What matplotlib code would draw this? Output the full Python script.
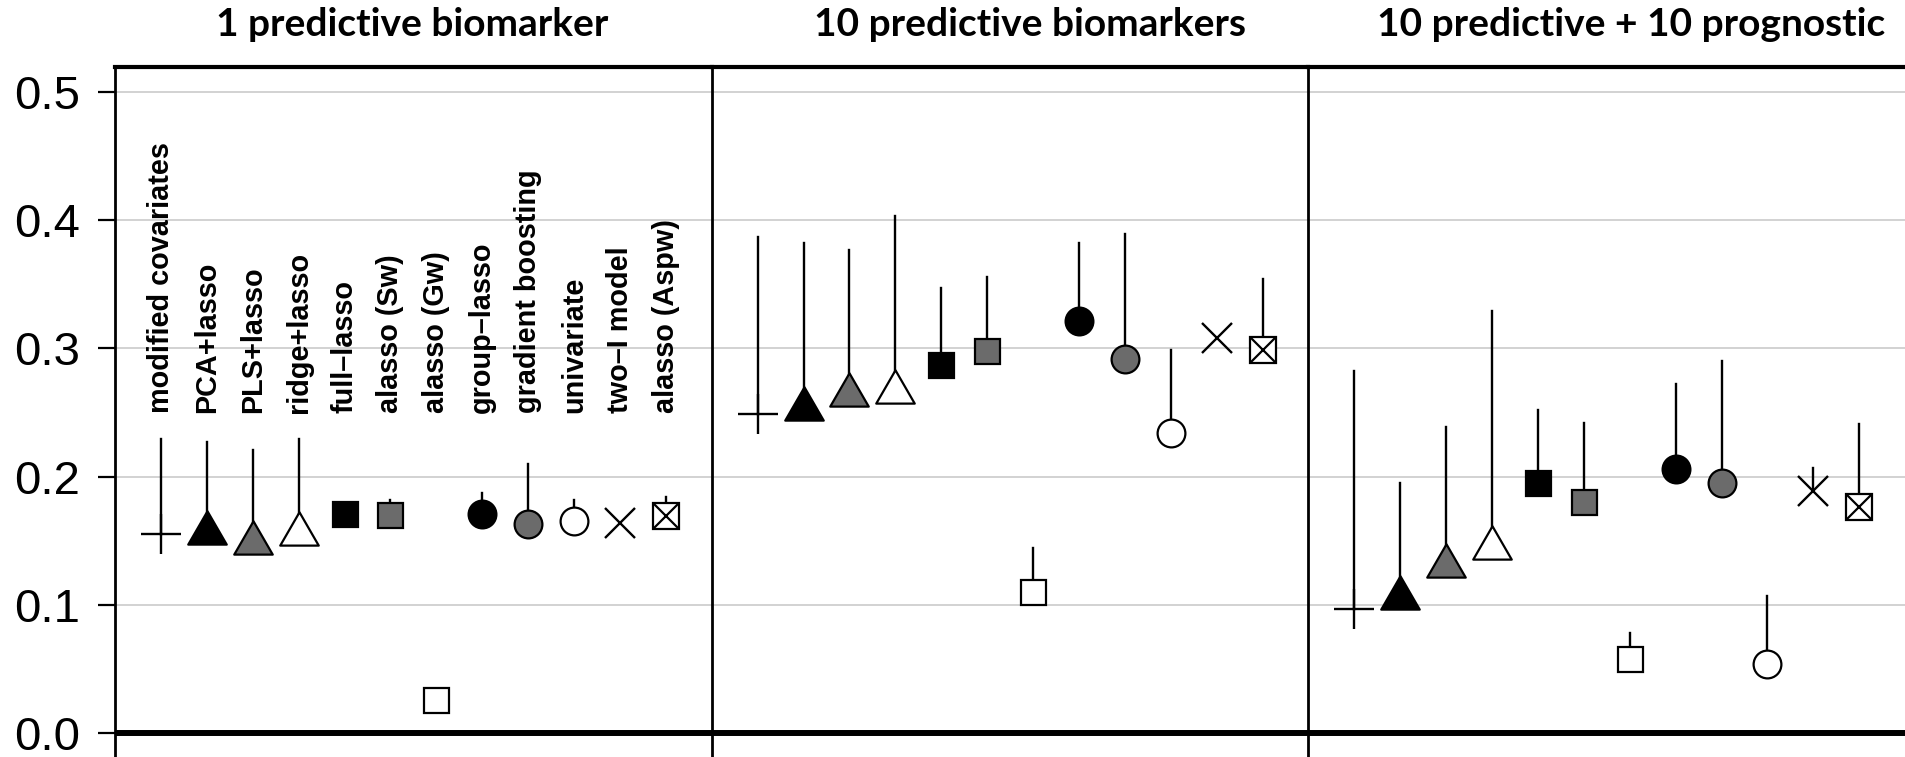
import matplotlib
matplotlib.use("Agg")
import matplotlib.pyplot as plt
from matplotlib.path import Path

# panel titles and method names
panels = ["1 predictive biomarker", "10 predictive biomarkers", "10 predictive + 10 prognostic"]
methods = ["modified covariates", "PCA+lasso", "PLS+lasso", "ridge+lasso", "full–lasso",
           "alasso (Sw)", "alasso (Gw)", "group–lasso", "gradient boosting", "univariate",
           "two–I model", "alasso (Aspw)"]
yticks = [0.0, 0.1, 0.2, 0.3, 0.4, 0.5]

# point estimate and upper end of the bar
est_1 = [0.155, 0.156, 0.148, 0.155, 0.171, 0.170, 0.026, 0.171, 0.163, 0.165, 0.164, 0.169]
up_1 = [0.229, 0.227, 0.221, 0.229, 0.171, 0.182, 0.026, 0.187, 0.210, 0.182, 0.164, 0.184]

est_2 = [0.249, 0.253, 0.264, 0.266, 0.287, 0.298, 0.110, 0.321, 0.292, 0.234, 0.308, 0.299]
up_2 = [0.387, 0.382, 0.377, 0.403, 0.347, 0.356, 0.144, 0.382, 0.389, 0.299, 0.308, 0.354]

est_3 = [0.097, 0.105, 0.130, 0.144, 0.195, 0.180, 0.058, 0.206, 0.195, 0.054, 0.189, 0.176]
up_3 = [0.282, 0.195, 0.239, 0.329, 0.252, 0.242, 0.078, 0.272, 0.290, 0.107, 0.207, 0.241]

estimates = [est_1, est_2, est_3]
uppers = [up_1, up_2, up_3]

GRAY = "#6b6b6b"
tri = Path([(0, 1), (-0.866, -0.5), (0.866, -0.5), (0, 1)],
           [Path.MOVETO, Path.LINETO, Path.LINETO, Path.CLOSEPOLY])

# marker style per method: (marker, size, facecolor)
styles = [
    ("+", 29, "black"),
    (tri, 32, "black"),
    (tri, 32, GRAY),
    (tri, 32, "white"),
    ("s", 18, "black"),
    ("s", 18, GRAY),
    ("s", 18, "white"),
    ("o", 20, "black"),
    ("o", 20, GRAY),
    ("o", 20, "white"),
    ("x", 22, "black"),
    ("boxx", 19, "white"),
]

fig = plt.figure(figsize=(19.05, 7.57), dpi=100)

left = 115 / 1905
w = 596.7 / 1905
h = (757 - 67) / 757

for p in range(3):
    ax = fig.add_axes([left + p * w, 0, w, h])
    ax.set_xlim(0, 13)
    ax.set_ylim(-0.0187, 0.5195)
    ax.set_yticks(yticks)
    ax.set_xticks([])
    ax.grid(axis="y", color="#cfcfcf", lw=1.3)
    ax.set_axisbelow(True)
    ax.axhline(0, color="black", lw=4.3, zorder=2)

    for s in ["bottom", "right"]:
        ax.spines[s].set_visible(False)
    ax.spines["left"].set_linewidth(2.0)
    ax.spines["top"].set_linewidth(3.0)

    if p == 0:
        ax.tick_params(axis="y", length=12, width=1.6, pad=13, labelsize=34)
        ax.set_yticklabels(["0.0", "0.1", "0.2", "0.3", "0.4", "0.5"],
                           family="Liberation Sans")
    else:
        ax.tick_params(axis="y", left=False, labelleft=False)

    for i in range(12):
        x = i + 1
        e = estimates[p][i]
        u = uppers[p][i]
        if u > e:
            ax.plot([x, x], [e, u], color="black", lw=1.7, zorder=3)
        m, ms, fc = styles[i]
        if m == "boxx":
            ax.plot(x, e, marker="s", ms=ms, mfc=fc, mec="black", mew=1.6, zorder=4)
            ax.plot(x, e, marker="x", ms=ms, mec="black", mew=1.6, zorder=5)
        elif m in ("+", "x"):
            ax.plot(x, e, marker=m, ms=ms, mec="black", mew=1.7, zorder=4)
        else:
            ax.plot(x, e, marker=m, ms=ms, mfc=fc, mec="black", mew=1.6, zorder=4)

    if p == 0:
        for i, name in enumerate(methods):
            ax.text(i + 1, 0.25, name, rotation=90, rotation_mode="anchor",
                    ha="left", va="center", fontsize=20.8, fontweight="bold",
                    family="Liberation Sans")

title_x = [412 / 1905, 1030 / 1905, 1631 / 1905]
for t, tx in zip(panels, title_x):
    fig.text(tx, 1 - 25 / 757, t, ha="center", va="center", fontsize=28,
             fontweight="bold", family="Lato")

fig.savefig("out.png", dpi=100)
